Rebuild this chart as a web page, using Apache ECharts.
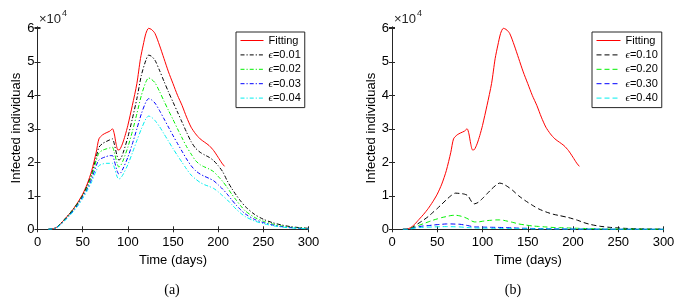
<!DOCTYPE html>
<html><head><meta charset="utf-8">
<script src="https://cdn.jsdelivr.net/npm/echarts@6/dist/echarts.min.js"></script>
<style>html,body{margin:0;padding:0;background:#fff}#c{width:681px;height:302px}</style>
</head><body><div id="c"></div>
<script>
// x ticks
const xTicks = [0, 50, 100, 150, 200, 250, 300];
const yTicks = [0, 1, 2, 3, 4, 5, 6]; // x 10^4
// Fitting curve (both panels), units of 10^4
const fitDays = [12,16,20,25,30,35,40,45,50,55,60,65,68,72,76,80,83,85,87,89,91,94,97,100,105,110,114,117,120,123,126,130,135,140,145,150,155,160,165,170,175,180,185,190,195,200,204,207];
const fitVals = [0,0.01,0.04,0.15,0.3,0.45,0.62,0.82,1.05,1.35,1.75,2.3,2.7,2.82,2.88,2.93,3.0,2.85,2.55,2.37,2.38,2.55,2.8,3.1,3.7,4.35,5.1,5.5,5.85,6.0,5.97,5.85,5.5,5.1,4.7,4.35,4.0,3.7,3.35,3.05,2.85,2.7,2.6,2.5,2.35,2.15,1.98,1.88];
// Panel (a)
const aDays = [12,16,20,25,30,35,40,45,50,55,60,65,68,72,76,80,83,85,88,90,92,95,100,105,110,115,120,123,126,130,135,140,145,150,155,160,165,170,175,180,185,190,195,200,205,210,215,220,225,230,240,250,260,270,280,290,300];
const a001 = [0,0.01,0.04,0.15,0.3,0.45,0.62,0.8,1.02,1.3,1.65,2.15,2.45,2.56,2.62,2.67,2.7,2.55,2.2,2.07,2.1,2.3,2.75,3.3,3.9,4.6,5.05,5.2,5.17,5.05,4.75,4.42,4.1,3.8,3.5,3.2,2.9,2.62,2.42,2.3,2.22,2.15,2.05,1.9,1.72,1.45,1.22,1.02,0.84,0.68,0.45,0.3,0.2,0.13,0.08,0.05,0.03];
const a002 = [0,0.01,0.04,0.14,0.28,0.43,0.6,0.78,1.0,1.25,1.6,2.05,2.28,2.36,2.4,2.43,2.45,2.3,1.98,1.86,1.9,2.07,2.45,2.92,3.45,4.0,4.4,4.52,4.48,4.38,4.12,3.83,3.55,3.28,3.0,2.73,2.47,2.25,2.05,1.93,1.86,1.8,1.72,1.58,1.43,1.25,1.05,0.87,0.7,0.55,0.36,0.24,0.16,0.1,0.06,0.04,0.02];
const a003 = [0,0.01,0.04,0.13,0.27,0.41,0.57,0.75,0.97,1.2,1.5,1.9,2.07,2.13,2.17,2.2,2.2,2.05,1.75,1.65,1.68,1.83,2.15,2.55,3.0,3.45,3.8,3.9,3.87,3.77,3.55,3.3,3.05,2.8,2.56,2.33,2.1,1.9,1.75,1.65,1.58,1.52,1.45,1.33,1.2,1.05,0.88,0.72,0.58,0.46,0.3,0.2,0.13,0.08,0.05,0.03,0.02];
const a004 = [0,0.01,0.03,0.12,0.25,0.39,0.54,0.71,0.92,1.15,1.42,1.75,1.9,1.95,1.97,1.97,1.97,1.85,1.58,1.5,1.53,1.65,1.93,2.28,2.65,3.0,3.3,3.38,3.35,3.25,3.07,2.85,2.63,2.41,2.2,2.0,1.8,1.62,1.5,1.4,1.33,1.28,1.22,1.12,1.0,0.88,0.74,0.6,0.48,0.38,0.25,0.17,0.11,0.07,0.04,0.03,0.01];
// Panel (b)
const bDays = [12,16,20,25,30,35,40,45,50,55,60,65,70,75,80,84,88,91,95,100,105,110,115,119,123,128,133,140,147,155,162,170,178,185,195,205,212,220,230,240,250,260,270,285,300];
const b010 = [0,0,0.02,0.1,0.19,0.28,0.38,0.5,0.62,0.75,0.88,1.0,1.08,1.07,1.05,1.0,0.82,0.76,0.8,0.92,1.06,1.2,1.32,1.38,1.35,1.27,1.17,1.0,0.86,0.72,0.61,0.52,0.45,0.41,0.35,0.27,0.2,0.14,0.09,0.06,0.04,0.025,0.015,0.008,0.004];
const b020 = [0,0,0.02,0.07,0.12,0.17,0.22,0.27,0.31,0.35,0.38,0.41,0.42,0.4,0.36,0.31,0.25,0.22,0.22,0.24,0.26,0.27,0.28,0.28,0.27,0.24,0.21,0.16,0.13,0.1,0.085,0.07,0.055,0.05,0.04,0.03,0.025,0.02,0.012,0.009,0.007,0.005,0.004,0.002,0.001];
const b030 = [0,0,0.01,0.05,0.08,0.1,0.11,0.125,0.14,0.15,0.16,0.16,0.155,0.15,0.13,0.11,0.085,0.07,0.068,0.065,0.063,0.06,0.058,0.055,0.053,0.048,0.043,0.035,0.03,0.025,0.02,0.016,0.013,0.011,0.009,0.007,0.006,0.005,0.004,0.003,0.002,0.002,0.001,0.001,0.001];
const b040 = [0,0,0.01,0.03,0.05,0.06,0.065,0.07,0.075,0.078,0.08,0.078,0.075,0.07,0.06,0.05,0.045,0.04,0.037,0.035,0.033,0.03,0.029,0.028,0.026,0.024,0.022,0.018,0.015,0.012,0.01,0.009,0.007,0.006,0.005,0.004,0.003,0.003,0.002,0.002,0.001,0.001,0.001,0.001,0.001];

const aNames = ['Fitting','ϵ=0.01','ϵ=0.02','ϵ=0.03','ϵ=0.04'];
const bNames = ['Fitting','ϵ=0.10','ϵ=0.20','ϵ=0.30','ϵ=0.40'];
const colors = ['#ff0000','#000000','#00f000','#0000ff','#00eeee'];

const pairs = (d, v) => d.map((x, i) => [x, v[i]]);
const FONT = 'Liberation Sans, Arial, sans-serif';
const AX = '#262626';

function xAx(grid, pos) {
  const bottom = pos === 'bottom';
  return {
    type: 'value', gridIndex: grid, position: pos, min: 0, max: 300, interval: 50,
    name: bottom ? 'Time (days)' : '', nameLocation: 'middle', nameGap: 22,
    nameTextStyle: {color: '#000', fontSize: 13, fontFamily: FONT},
    axisLine: {show: true, lineStyle: {color: AX, width: 1}},
    axisTick: {show: true, inside: true, length: 3, lineStyle: {color: AX}},
    axisLabel: {show: bottom, color: '#000', fontSize: 13, fontFamily: FONT, margin: 7},
    splitLine: {show: false}
  };
}
function yAx(grid, pos) {
  const left = pos === 'left';
  return {
    type: 'value', gridIndex: grid, position: pos, min: 0, max: 6.04, interval: 1,
    name: left ? 'Infected individuals' : '', nameLocation: 'middle', nameGap: 12,
    nameTextStyle: {color: '#000', fontSize: 13, fontFamily: FONT},
    axisLine: {show: true, lineStyle: {color: AX, width: 1}},
    axisTick: {show: true, inside: true, length: 3, lineStyle: {color: AX}},
    axisLabel: {show: left, color: '#000', fontSize: 13, fontFamily: FONT, margin: 3,
      formatter: v => yTicks.indexOf(v) >= 0 ? String(v) : ''},
    splitLine: {show: false}
  };
}
function mk(name, d, v, color, xi, yi, dash) {
  return {
    type: 'line', name, data: pairs(d, v), xAxisIndex: xi, yAxisIndex: yi,
    symbol: 'none', smooth: 0.25, animation: false,
    lineStyle: {color, width: 1, type: dash || 'solid'}, itemStyle: {color}
  };
}
const dashDot = [4, 2, 1.2, 2];
const dashed = [5, 3];
const series = [
  mk(aNames[0], fitDays, fitVals, colors[0], 0, 0),
  mk(aNames[1], aDays, a001, colors[1], 0, 0, dashDot),
  mk(aNames[2], aDays, a002, colors[2], 0, 0, dashDot),
  mk(aNames[3], aDays, a003, colors[3], 0, 0, dashDot),
  mk(aNames[4], aDays, a004, colors[4], 0, 0, dashDot),
  mk(bNames[0], fitDays, fitVals, colors[0], 2, 2),
  mk(bNames[1], bDays, b010, colors[1], 2, 2, dashed),
  mk(bNames[2], bDays, b020, colors[2], 2, 2, dashed),
  mk(bNames[3], bDays, b030, colors[3], 2, 2, dashed),
  mk(bNames[4], bDays, b040, colors[4], 2, 2, dashed)
];
function leg(names, left, w) {
  return {
    data: names, orient: 'vertical', left, top: 32, padding: [3, 4, 4, 4],
    itemWidth: w, itemHeight: 10, itemGap: 3.4,
    borderColor: AX, borderWidth: 1, backgroundColor: '#fff',
    itemStyle: {opacity: 0},
    lineStyle: {width: 1},
    textStyle: {fontSize: 11, color: '#000', fontFamily: FONT,
      rich: {e: {fontSize: 11, fontStyle: 'italic', fontFamily: 'Liberation Serif, serif', color: '#000'}}},
    formatter: n => n.replace('ϵ', '{e|ϵ}'),
    selectedMode: false
  };
}
const chart = echarts.init(document.getElementById('c'), null, {renderer: 'canvas'});
chart.setOption({
  animation: false,
  backgroundColor: '#fff',
  grid: [
    {left: 37.5, top: 27, width: 271, height: 202.3},
    {left: 392, top: 27, width: 271.5, height: 202.3}
  ],
  xAxis: [xAx(0, 'bottom'), xAx(0, 'top'), xAx(1, 'bottom'), xAx(1, 'top')],
  yAxis: [yAx(0, 'left'), yAx(0, 'right'), yAx(1, 'left'), yAx(1, 'right')],
  legend: [leg(aNames, 236, 23), leg(bNames, 592, 24)],
  series,
  graphic: [
    {type: 'text', x: 39, y: 19, style: {text: '×10', fontSize: 13, fontFamily: FONT, fill: AX, verticalAlign: 'middle'}},
    {type: 'text', x: 62, y: 14, style: {text: '4', fontSize: 9, fontFamily: FONT, fill: AX, verticalAlign: 'middle'}},
    {type: 'text', x: 394, y: 19, style: {text: '×10', fontSize: 13, fontFamily: FONT, fill: AX, verticalAlign: 'middle'}},
    {type: 'text', x: 417, y: 14, style: {text: '4', fontSize: 9, fontFamily: FONT, fill: AX, verticalAlign: 'middle'}},
    {type: 'text', x: 172, y: 290, style: {text: '(a)', fontSize: 14, fontFamily: 'Liberation Serif, serif', fill: '#000', align: 'center', verticalAlign: 'middle'}},
    {type: 'text', x: 513, y: 290, style: {text: '(b)', fontSize: 14, fontFamily: 'Liberation Serif, serif', fill: '#000', align: 'center', verticalAlign: 'middle'}}
  ]
});
</script></body></html>
